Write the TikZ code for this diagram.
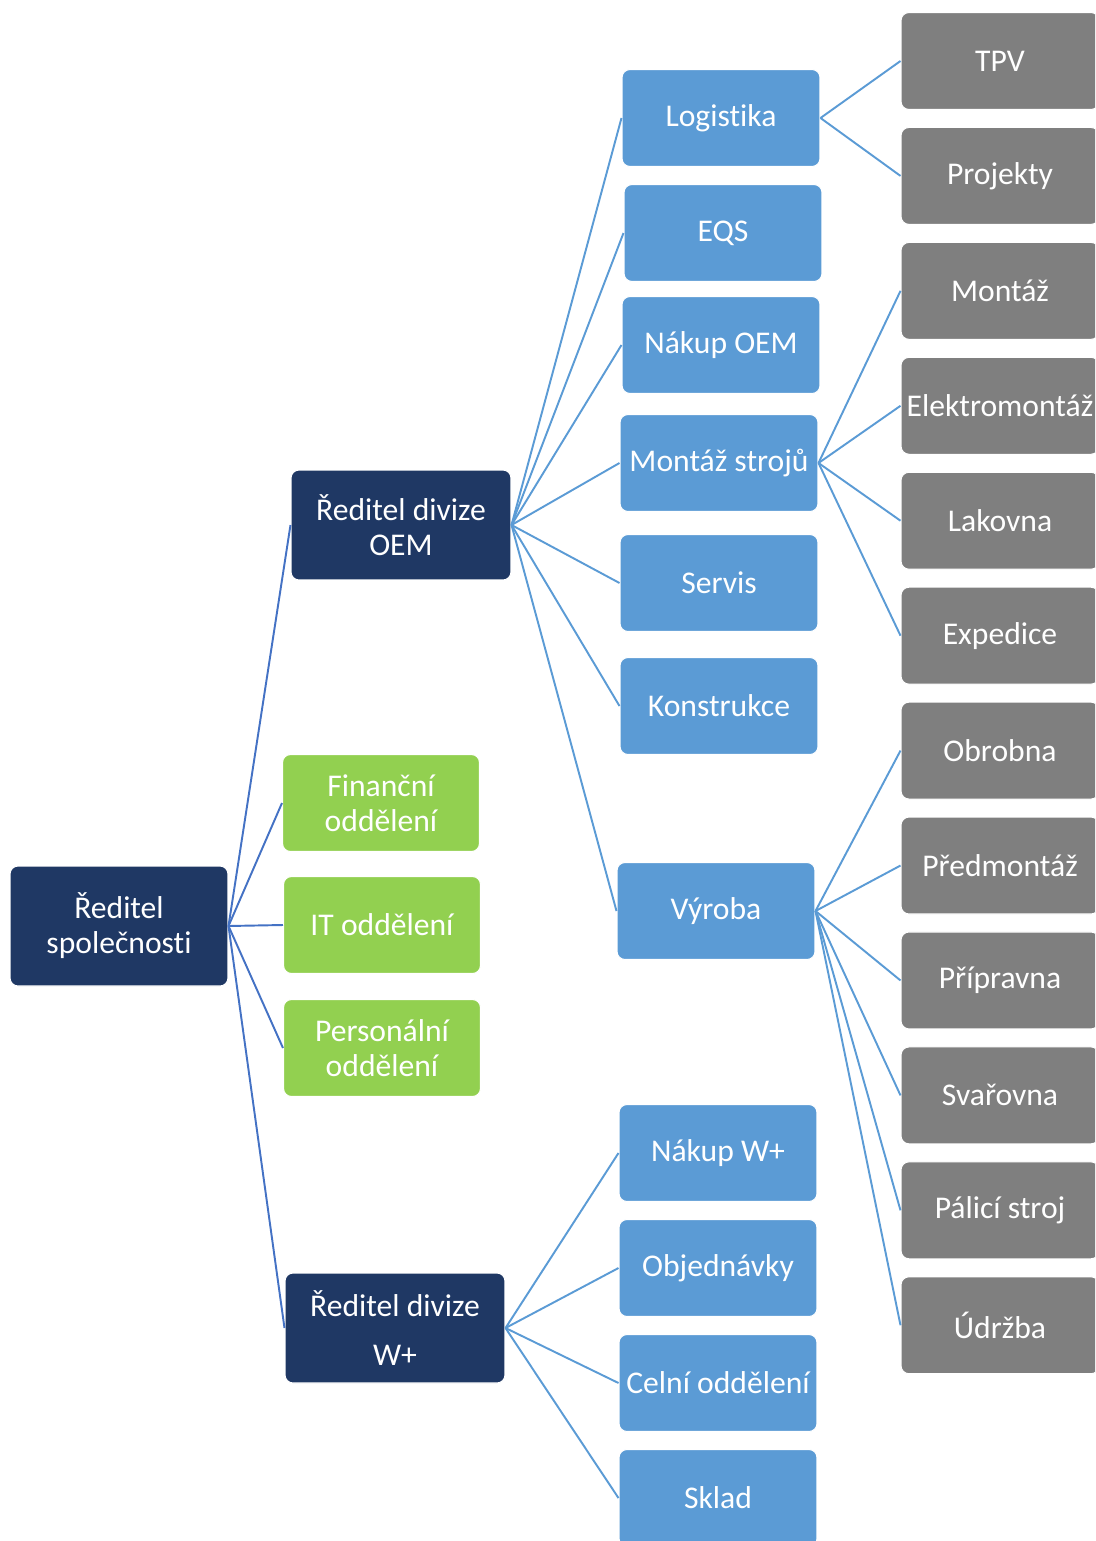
\documentclass[tikz,border=0pt]{standalone}
\usepackage{fontspec}
\setmainfont{Carlito}[Ligatures=NoCommon]
\usepackage{tikz}
\usetikzlibrary{positioning}
\definecolor{navy}{HTML}{1F3864}
\definecolor{midblue}{HTML}{5B9BD5}
\definecolor{lime}{HTML}{92D050}
\definecolor{slate}{HTML}{7F7F7F}
\definecolor{linkblue}{HTML}{4472C4}
\tikzstyle{unit} = [draw=white, line width=0.6pt, rectangle, rounded corners=0.16cm, align=center, text=white, inner sep=1pt, font=\fontsize{18}{20}\selectfont]
\tikzstyle{head} = [unit, fill=navy, minimum width=4.4cm, minimum height=2.2cm]
\tikzstyle{staff} = [unit, fill=lime, minimum width=3.94cm, minimum height=1.94cm]
\tikzstyle{dept} = [unit, fill=midblue, minimum width=3.96cm, minimum height=1.94cm]
\tikzstyle{shop} = [unit, fill=slate, minimum width=3.96cm, minimum height=1.94cm]
\tikzstyle{link} = [draw=midblue, line width=1.1pt]

\begin{document}
\begin{tikzpicture}[x=0.02cm, y=-0.02cm, node distance=0.338cm]
  \useasboundingbox (0,0) rectangle (1095,1541);
  \clip (0,0) rectangle (1095,1541);
  % Top level
  \node [head, minimum width=4.36cm, minimum height=2.4cm] (ceo) at (119,926) {Ředitel\\společnosti};
  \node [head] (oem) at (401,525) {Ředitel divize\\OEM};
  \node [head] (wplus) at (395,1328) {Ředitel divize\\[8pt]W+};
  \node [staff] (fin) at (381,803) {Finanční\\oddělení};
  \node [staff] (it) at (382,925) {IT oddělení};
  \node [staff] (hr) at (382,1048) {Personální\\oddělení};

  % Departments
  \node [dept] (log) at (721,118) {Logistika};
  \node [dept] (eqs) at (723,233) {EQS};
  \node [dept] (buyoem) at (721,345) {Nákup OEM};
  \node [dept] (assy) at (719,463) {Montáž strojů};
  \node [dept] (serv) at (719,583) {Servis};
  \node [dept] (design) at (719,706) {Konstrukce};
  \node [dept] (prod) at (716,911) {Výroba};
  \node [dept] (buywp) at (718,1153) {Nákup W+};
  \node [dept] (orders) at (718,1268) {Objednávky};
  \node [dept] (customs) at (718,1383) {Celní oddělení};
  \node [dept] (store) at (718,1498) {Sklad};

  % Workshops
  \node [shop] (tpv) at (1000,61) {TPV};
  \node [shop, below=of tpv] (proj) {Projekty};
  \node [shop, below=of proj] (mont) {Montáž};
  \node [shop, below=of mont] (elmont) {Elektromontáž};
  \node [shop, below=of elmont] (paint) {Lakovna};
  \node [shop, below=of paint] (ship) {Expedice};
  \node [shop, below=of ship] (mach) {Obrobna};
  \node [shop, below=of mach] (premont) {Předmontáž};
  \node [shop, below=of premont] (prep) {Přípravna};
  \node [shop, below=of prep] (weld) {Svařovna};
  \node [shop, below=of weld] (cut) {Pálicí stroj};
  \node [shop, below=of cut] (maint) {Údržba};

  % Links
  \foreach \x in {oem, fin, it, hr, wplus}
    \draw [link, draw=linkblue] (ceo.east) -- (\x.west);
  \foreach \x in {log, eqs, buyoem, assy, serv, design, prod}
    \draw [link] (oem.east) -- (\x.west);
  \foreach \x in {buywp, orders, customs, store}
    \draw [link] (wplus.east) -- (\x.west);
  \foreach \x in {tpv, proj}
    \draw [link] (log.east) -- (\x.west);
  \foreach \x in {mont, elmont, paint, ship}
    \draw [link] (assy.east) -- (\x.west);
  \foreach \x in {mach, premont, prep, weld, cut, maint}
    \draw [link] (prod.east) -- (\x.west);
\end{tikzpicture}
\end{document}
